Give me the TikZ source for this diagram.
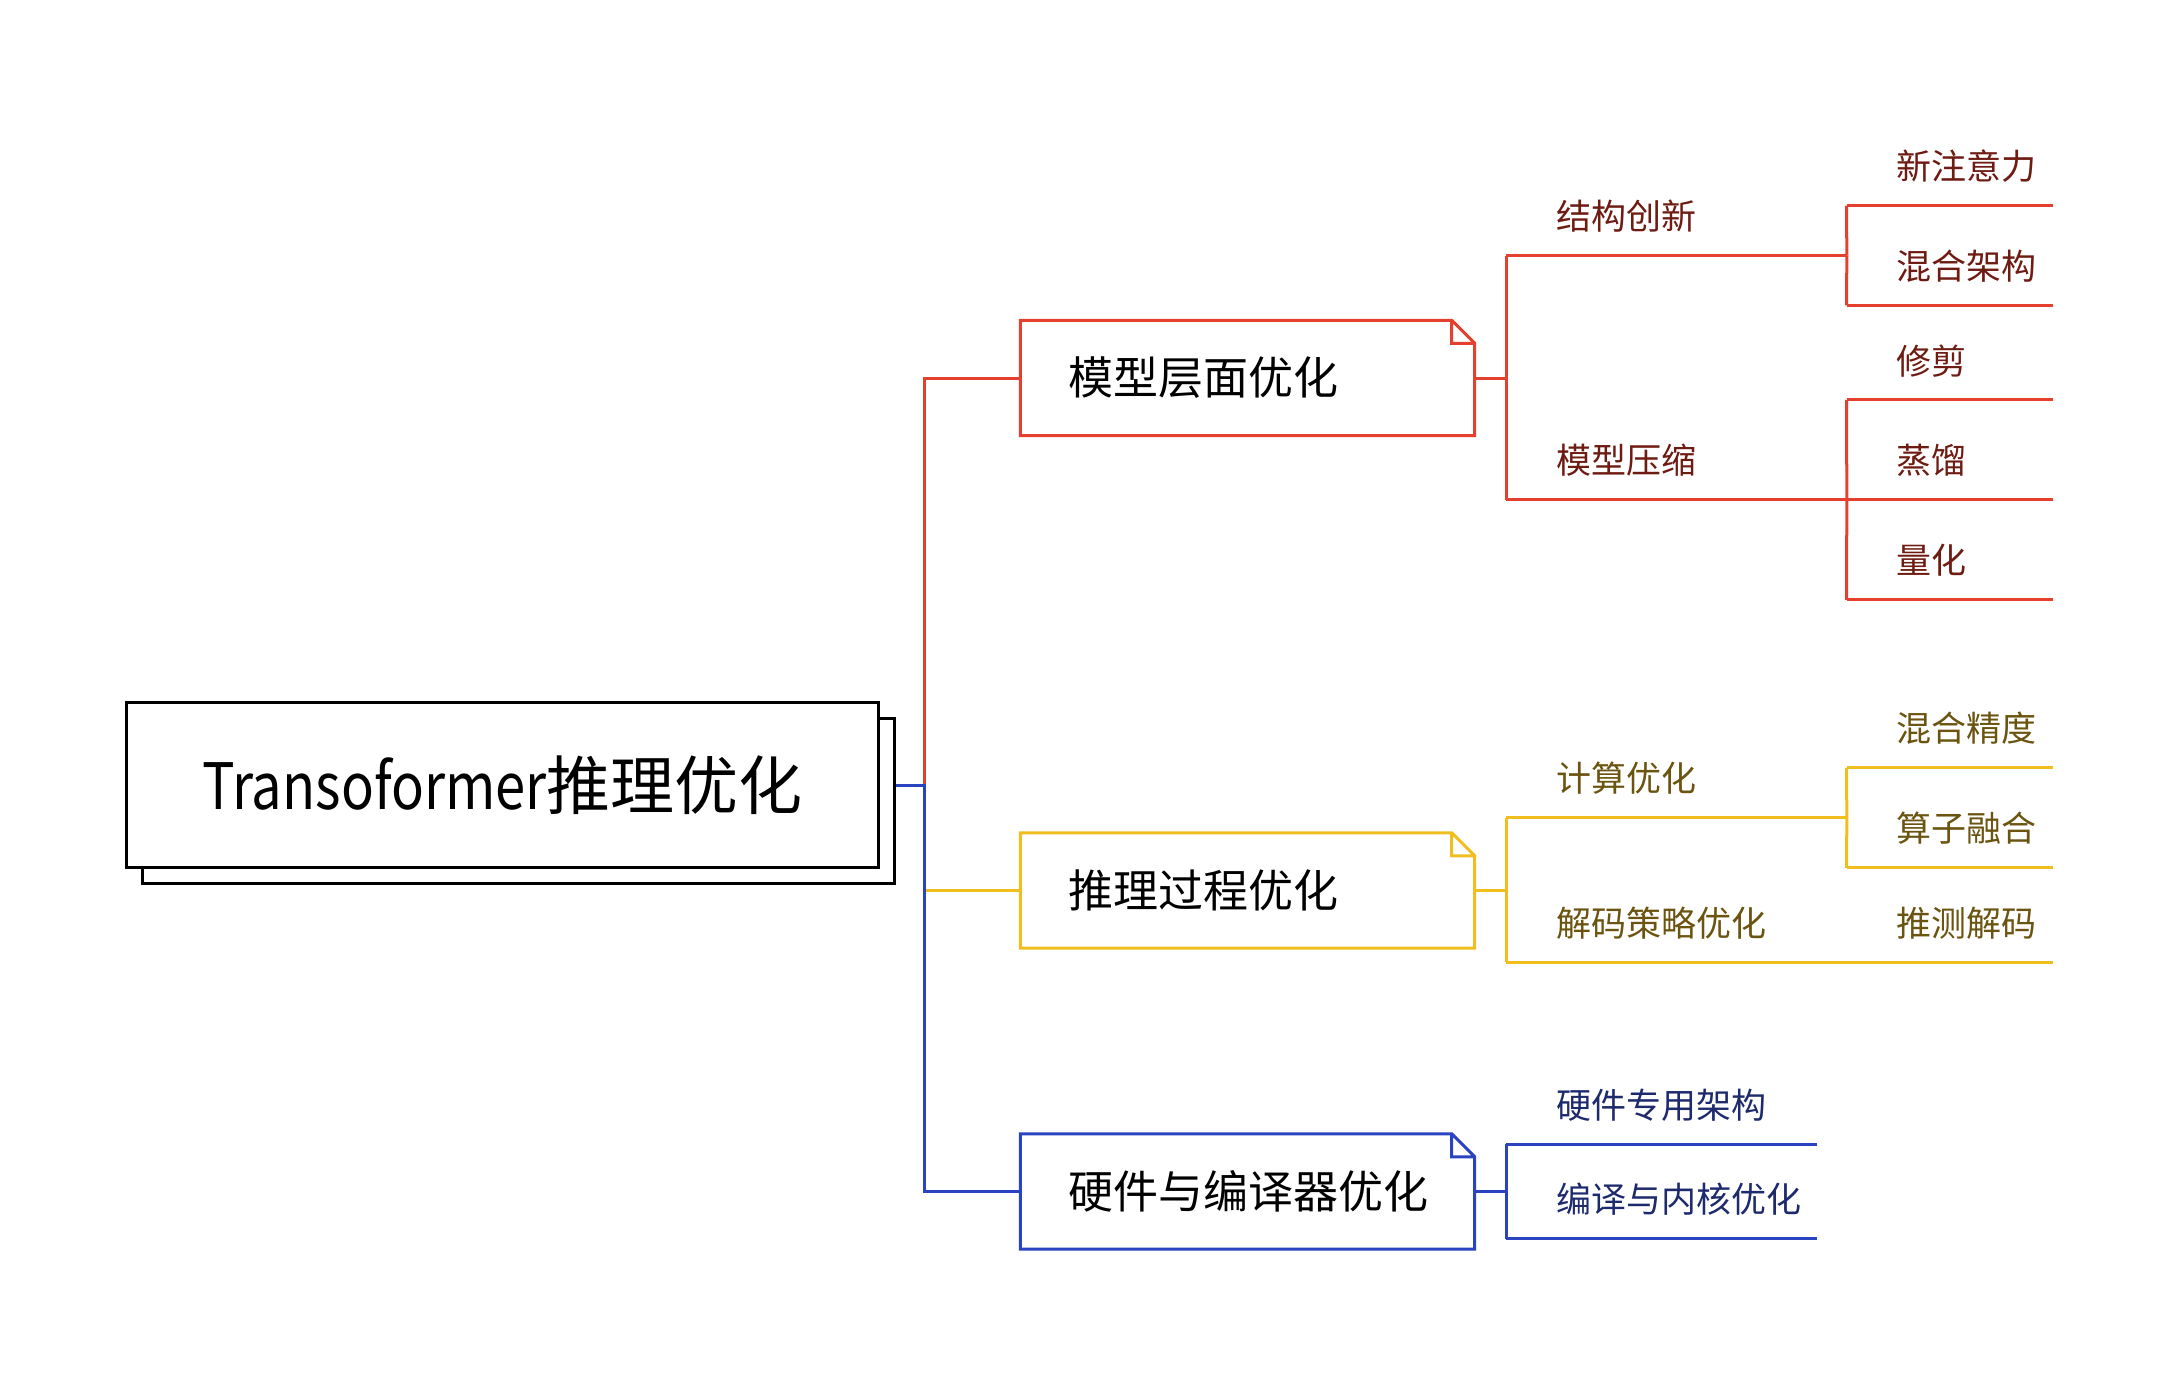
\documentclass[tikz,border=0pt]{standalone}
\usepackage{fontspec}
\setmainfont{Noto Sans CJK SC}
\newfontfamily\narrowlatin[FakeStretch=0.85]{Noto Sans CJK SC}
\usetikzlibrary{shadows}
\definecolor{mred}{HTML}{E5402E}
\definecolor{mredt}{HTML}{6E1B12}
\definecolor{myel}{HTML}{F0BE1E}
\definecolor{myelt}{HTML}{6B5410}
\definecolor{mblu}{HTML}{2A43C0}
\definecolor{mblut}{HTML}{1E2A6E}
\newcommand\mmitem[2]{\makebox[#1][l]{\hspace*{50pt}#2}}
\newcommand\mmbox[1]{\makebox[454pt][l]{\hspace*{48pt}#1}}
\begin{document}
\begin{tikzpicture}[x=1pt,y=-1pt,
  rl/.style={draw=mred, line width=3pt},
  yl/.style={draw=myel, line width=3pt},
  bl/.style={draw=mblu, line width=3pt},
  ulnode/.style={anchor=south west, inner sep=0pt, minimum height=78pt, font=\fontsize{35pt}{42pt}\selectfont},
  note/.style={inner sep=0pt, minimum height=115pt, font=\fontsize{45pt}{54pt}\selectfont},
  rootbox/.style={draw=black, fill=white, line width=3pt, minimum width=752pt, minimum height=165pt, inner sep=0pt,
    font=\fontsize{64pt}{76pt}\selectfont, copy shadow={shadow xshift=15.5pt, shadow yshift=-15.5pt}}
]
\useasboundingbox (0,0) rectangle (2177,1377);

% root
\node[rootbox] (root) at (502.6,785.2) {{\narrowlatin Transoformer}推理优化};
\coordinate (trunk) at (924.7,785.2);

% level 1
\node[note] (m1) at (1247.5,378) {\mmbox{模型层面优化}};
\node[note] (m2) at (1247.5,890.5) {\mmbox{推理过程优化}};
\node[note] (m3) at (1247.5,1191.5) {\mmbox{硬件与编译器优化}};

% level 2
\node[ulnode, text=mredt] (jg) at (1506.4,255.5) {\mmitem{340pt}{结构创新}};
\node[ulnode, text=mredt] (ys) at (1506.4,499.8) {\mmitem{340pt}{模型压缩}};
\node[ulnode, text=myelt] (js) at (1506.4,817.8) {\mmitem{340pt}{计算优化}};
\node[ulnode, text=myelt] (jm) at (1506.4,962.2) {\mmitem{340pt}{解码策略优化}};
\node[ulnode, text=mblut] (yj) at (1506.4,1144) {\mmitem{310pt}{硬件专用架构}};
\node[ulnode, text=mblut] (by) at (1506.4,1238.5) {\mmitem{310pt}{编译与内核优化}};

% level 3
\node[ulnode, text=mredt] (xzy) at (1846.6,205.5) {\mmitem{205.5pt}{新注意力}};
\node[ulnode, text=mredt] (hh) at (1846.6,305.4) {\mmitem{205.5pt}{混合架构}};
\node[ulnode, text=mredt] (xj) at (1846.6,399.9) {\mmitem{205.5pt}{修剪}};
\node[ulnode, text=mredt] (zl) at (1846.6,499.8) {\mmitem{205.5pt}{蒸馏}};
\node[ulnode, text=mredt] (lh) at (1846.6,599.8) {\mmitem{205.5pt}{量化}};
\node[ulnode, text=myelt] (hj) at (1846.6,767.8) {\mmitem{205.5pt}{混合精度}};
\node[ulnode, text=myelt] (sz) at (1846.6,867.8) {\mmitem{205.5pt}{算子融合}};
\node[ulnode, text=myelt] (tc) at (1846.6,962.2) {\mmitem{205.5pt}{推测解码}};

% root connectors
\draw[rl] (trunk) |- (m1.west);
\draw[yl] (trunk |- m2.west) -- (m2.west);
\draw[bl] ([xshift=15.5pt]root.east) -- (trunk) |- (m3.west);

% level-1 boxes with folded corner
\foreach \n/\s in {m1/rl, m2/yl, m3/bl}{
  \draw[\s, line join=miter] (\n.south west) -- (\n.north west) -- ([xshift=-23pt]\n.north east)
    -- ([yshift=-23pt]\n.north east) -- (\n.south east) -- cycle
    ([xshift=-23pt]\n.north east) |- ([yshift=-23pt]\n.north east);
}

% underlines
\foreach \n/\s in {jg/rl, ys/rl, js/yl, jm/yl, yj/bl, by/bl, xzy/rl, hh/rl, xj/rl, zl/rl, lh/rl, hj/yl, sz/yl, tc/yl}{
  \draw[\s] (\n.south west) -- (\n.south east);
}

% level-1 to level-2
\draw[rl] (m1.east) -| (jg.south west);
\draw[rl] (m1.east) -| (ys.south west);
\draw[yl] (m2.east) -| (js.south west);
\draw[yl] (m2.east) -| (jm.south west);
\draw[bl] (m3.east) -| (yj.south west);
\draw[bl] (m3.east) -| (by.south west);

% level-2 to level-3
\draw[rl] (jg.south east) -- (xzy.south west);
\draw[rl] (jg.south east) -- (hh.south west);
\draw[rl] (ys.south east) -- (xj.south west);
\draw[rl] (ys.south east) -- (zl.south west);
\draw[rl] (ys.south east) -- (lh.south west);
\draw[yl] (js.south east) -- (hj.south west);
\draw[yl] (js.south east) -- (sz.south west);
\draw[yl] (jm.south east) -- (tc.south west);
\end{tikzpicture}
\end{document}
